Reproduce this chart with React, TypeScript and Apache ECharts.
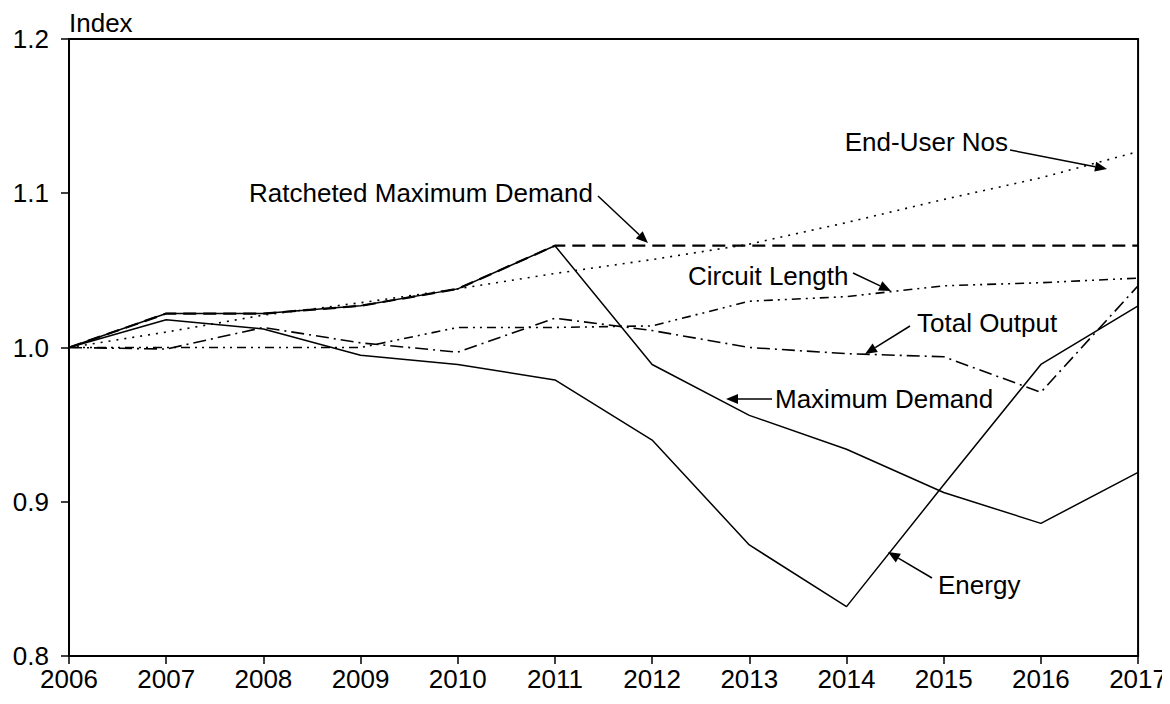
import React, { useEffect, useRef } from "react";
import * as echarts from "echarts";

const years = ["2006", "2007", "2008", "2009", "2010", "2011", "2012", "2013", "2014", "2015", "2016", "2017"];
const energy = [1.0, 1.018, 1.012, 0.995, 0.989, 0.979, 0.94, 0.872, 0.832, 0.911, 0.989, 1.027];
const maxDemand = [1.0, 1.022, 1.022, 1.027, 1.038, 1.066, 0.989, 0.956, 0.934, 0.906, 0.886, 0.919];
const ratcheted = [1.0, 1.022, 1.022, 1.027, 1.038, 1.066, 1.066, 1.066, 1.066, 1.066, 1.066, 1.066];
const endUser = [1.0, 1.01, 1.021, 1.029, 1.038, 1.048, 1.057, 1.067, 1.081, 1.096, 1.11, 1.127];
const circuit = [1.0, 1.0, 1.0, 1.0, 1.013, 1.013, 1.014, 1.03, 1.033, 1.04, 1.042, 1.045];
const totalOutput = [1.0, 0.999, 1.013, 1.003, 0.997, 1.019, 1.011, 1.0, 0.996, 0.994, 0.971, 1.04];

// annotation label, text anchor [x,y] + alignment, arrow start, arrow tip (pixels)
const annotations: { text: string; tx: number; ty: number; align: string; sx: number; sy: number; ex: number; ey: number }[] = [
  { text: "End-User Nos", tx: 1008, ty: 142, align: "right", sx: 1010, sy: 150, ex: 1107, ey: 169 },
  { text: "Ratcheted Maximum Demand", tx: 249, ty: 193, align: "left", sx: 598, sy: 196, ex: 648, ey: 243 },
  { text: "Circuit Length", tx: 688, ty: 276, align: "left", sx: 853, sy: 273, ex: 891, ey: 291 },
  { text: "Total Output", tx: 917, ty: 323, align: "left", sx: 910, sy: 326, ex: 865, ey: 354 },
  { text: "Maximum Demand", tx: 775, ty: 399, align: "left", sx: 772, sy: 399, ex: 726, ey: 399 },
  { text: "Energy", tx: 938, ty: 585, align: "left", sx: 932, sy: 578, ex: 888, ey: 552 },
];

const FONT = "'Liberation Sans', Arial, sans-serif";
const FS = 26;

function arrowGraphics() {
  const els: any[] = [];
  annotations.forEach((a) => {
    els.push({
      type: "text",
      x: a.tx,
      y: a.ty,
      style: { text: a.text, fill: "#000", font: `${FS}px ${FONT}`, textAlign: a.align, textVerticalAlign: "middle" },
      z: 100,
    });
    const dx = a.ex - a.sx;
    const dy = a.ey - a.sy;
    const len = Math.sqrt(dx * dx + dy * dy);
    const ux = dx / len;
    const uy = dy / len;
    const hl = 12;
    const hw = 5;
    const bx = a.ex - ux * hl;
    const by = a.ey - uy * hl;
    els.push({
      type: "line",
      shape: { x1: a.sx, y1: a.sy, x2: bx, y2: by },
      style: { stroke: "#000", lineWidth: 1.5 },
      z: 100,
    });
    els.push({
      type: "polygon",
      shape: {
        points: [
          [a.ex, a.ey],
          [bx - uy * hw, by + ux * hw],
          [bx + uy * hw, by - ux * hw],
        ],
      },
      style: { fill: "#000" },
      z: 100,
    });
  });
  return els;
}

export default function App() {
  const ref = useRef<HTMLDivElement>(null);
  useEffect(() => {
    if (!ref.current) return;
    const chart = echarts.init(ref.current, undefined, { renderer: "svg" });
    const line = (name: string, data: number[], type: any, width: number, z: number) => ({
      name,
      type: "line",
      data,
      symbol: "none",
      z,
      lineStyle: { color: "#000", width, type },
    });
    chart.setOption({
      animation: false,
      backgroundColor: "#fff",
      textStyle: { fontFamily: FONT },
      grid: { left: 69, right: 30, top: 39, bottom: 48, show: true, borderColor: "#000", borderWidth: 2 },
      xAxis: {
        type: "category",
        data: years,
        boundaryGap: false,
        axisLine: { lineStyle: { color: "#000", width: 2 } },
        axisTick: { inside: false, length: 8, lineStyle: { color: "#000", width: 1.5 } },
        axisLabel: { color: "#000", fontSize: FS, fontFamily: FONT, margin: 10 },
        splitLine: { show: false },
      },
      yAxis: {
        type: "value",
        min: 0.8,
        max: 1.2,
        interval: 0.1,
        name: "Index",
        nameLocation: "end",
        nameGap: 3,
        nameTextStyle: { color: "#000", fontSize: FS, fontFamily: FONT, align: "left", verticalAlign: "bottom" },
        axisLine: { show: true, lineStyle: { color: "#000", width: 2 } },
        axisTick: { show: true, inside: false, length: 8, lineStyle: { color: "#000", width: 1.5 } },
        axisLabel: { color: "#000", fontSize: FS, fontFamily: FONT, margin: 20, formatter: (v: number) => v.toFixed(1) },
        splitLine: { show: false },
      },
      series: [
        line("Ratcheted Maximum Demand", ratcheted, [13, 7], 2.2, 2),
        line("End-User Nos", endUser, [2, 6], 1.6, 3),
        line("Circuit Length", circuit, [9, 5, 2, 5, 2, 5], 1.6, 4),
        line("Total Output", totalOutput, [13, 5, 2, 5], 1.6, 5),
        line("Maximum Demand", maxDemand, "solid", 1.5, 6),
        line("Energy", energy, "solid", 1.5, 7),
      ],
      graphic: arrowGraphics(),
    });
    return () => chart.dispose();
  }, []);
  return <div ref={ref} style={{ width: 1170, height: 704, margin: -8 }} />;
}
